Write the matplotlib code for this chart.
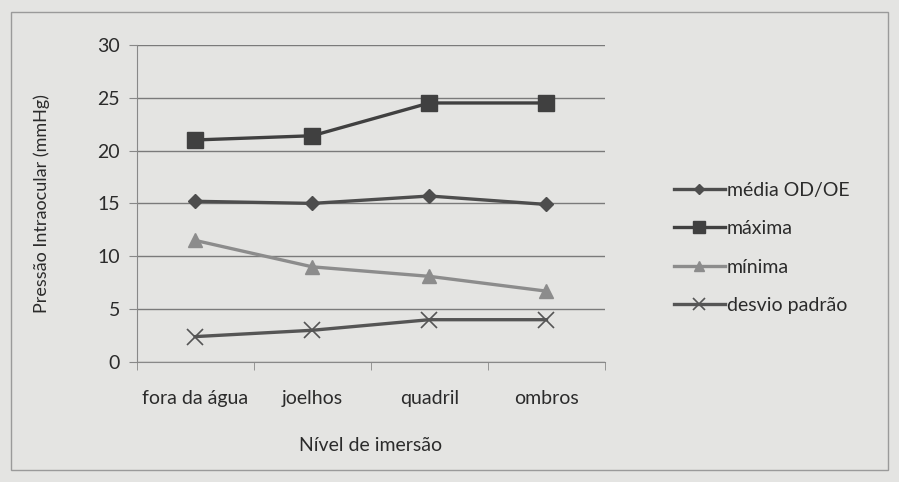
import matplotlib
matplotlib.use("Agg")
import matplotlib.pyplot as plt
from matplotlib.patches import Rectangle

categories = ["fora da água", "joelhos", "quadril", "ombros"]
media = [15.2, 15.0, 15.7, 14.9]
maxima = [21.0, 21.4, 24.5, 24.5]
minima = [11.5, 9.0, 8.1, 6.7]
desvio = [2.4, 3.0, 4.0, 4.0]
series_names = ["média OD/OE", "máxima", "mínima", "desvio padrão"]
y_ticks = [0, 5, 10, 15, 20, 25, 30]

plt.rcParams['font.family'] = ['Lato', 'DejaVu Sans']
txt = '#2b2b2b'

fig = plt.figure(figsize=(8.99, 4.82), dpi=100)
fig.patch.set_facecolor('#e4e4e2')
fig.patches.append(Rectangle((0.012, 0.025), 0.976, 0.95, transform=fig.transFigure,
                             fill=False, edgecolor='#9a9a9a', lw=1.0))

ax = fig.add_axes([0.152, 0.249, 0.521, 0.658])
ax.set_facecolor('#e4e4e2')
x = list(range(len(categories)))

ax.plot(x, media, color='#4d4d4d', lw=2.4, marker='D', ms=7, label=series_names[0])
ax.plot(x, maxima, color='#404040', lw=2.4, marker='s', ms=12, label=series_names[1])
ax.plot(x, minima, color='#8c8c8c', lw=2.4, marker='^', ms=10, label=series_names[2])
ax.plot(x, desvio, color='#555555', lw=2.4, marker='x', ms=11, mew=1.2, label=series_names[3])

ax.set_ylim(0, 30)
ax.set_yticks(y_ticks)
ax.set_xlim(-0.5, 3.5)
ax.set_xticks(x)
ax.set_xticklabels(categories)
ax.set_xticks([-0.5, 0.5, 1.5, 2.5, 3.5], minor=True)
ax.tick_params(axis='x', which='major', length=0, pad=20, labelsize=14, colors=txt)
ax.tick_params(axis='x', which='minor', length=6, color='#888888', direction='out')
ax.tick_params(axis='y', length=6, color='#888888', pad=6, labelsize=14, labelcolor=txt)
ax.grid(axis='y', color='#7a7a7a', lw=1.0)
ax.set_axisbelow(True)
for s in ['top', 'right']:
    ax.spines[s].set_visible(False)
ax.spines['left'].set_color('#888888')
ax.spines['bottom'].set_color('#888888')

ax.set_xlabel("Nível de imersão", fontsize=14, color=txt, labelpad=22)
ax.set_ylabel("Pressão Intraocular (mmHg)", fontsize=13, color=txt, labelpad=34)

leg = ax.legend(loc='center left', bbox_to_anchor=(1.11, 0.36), frameon=False, fontsize=14,
                labelspacing=1.1, handlelength=2.6, handletextpad=0.1, markerscale=0.75,
                labelcolor=txt)

fig.savefig("out.png", dpi=100, facecolor=fig.get_facecolor())
